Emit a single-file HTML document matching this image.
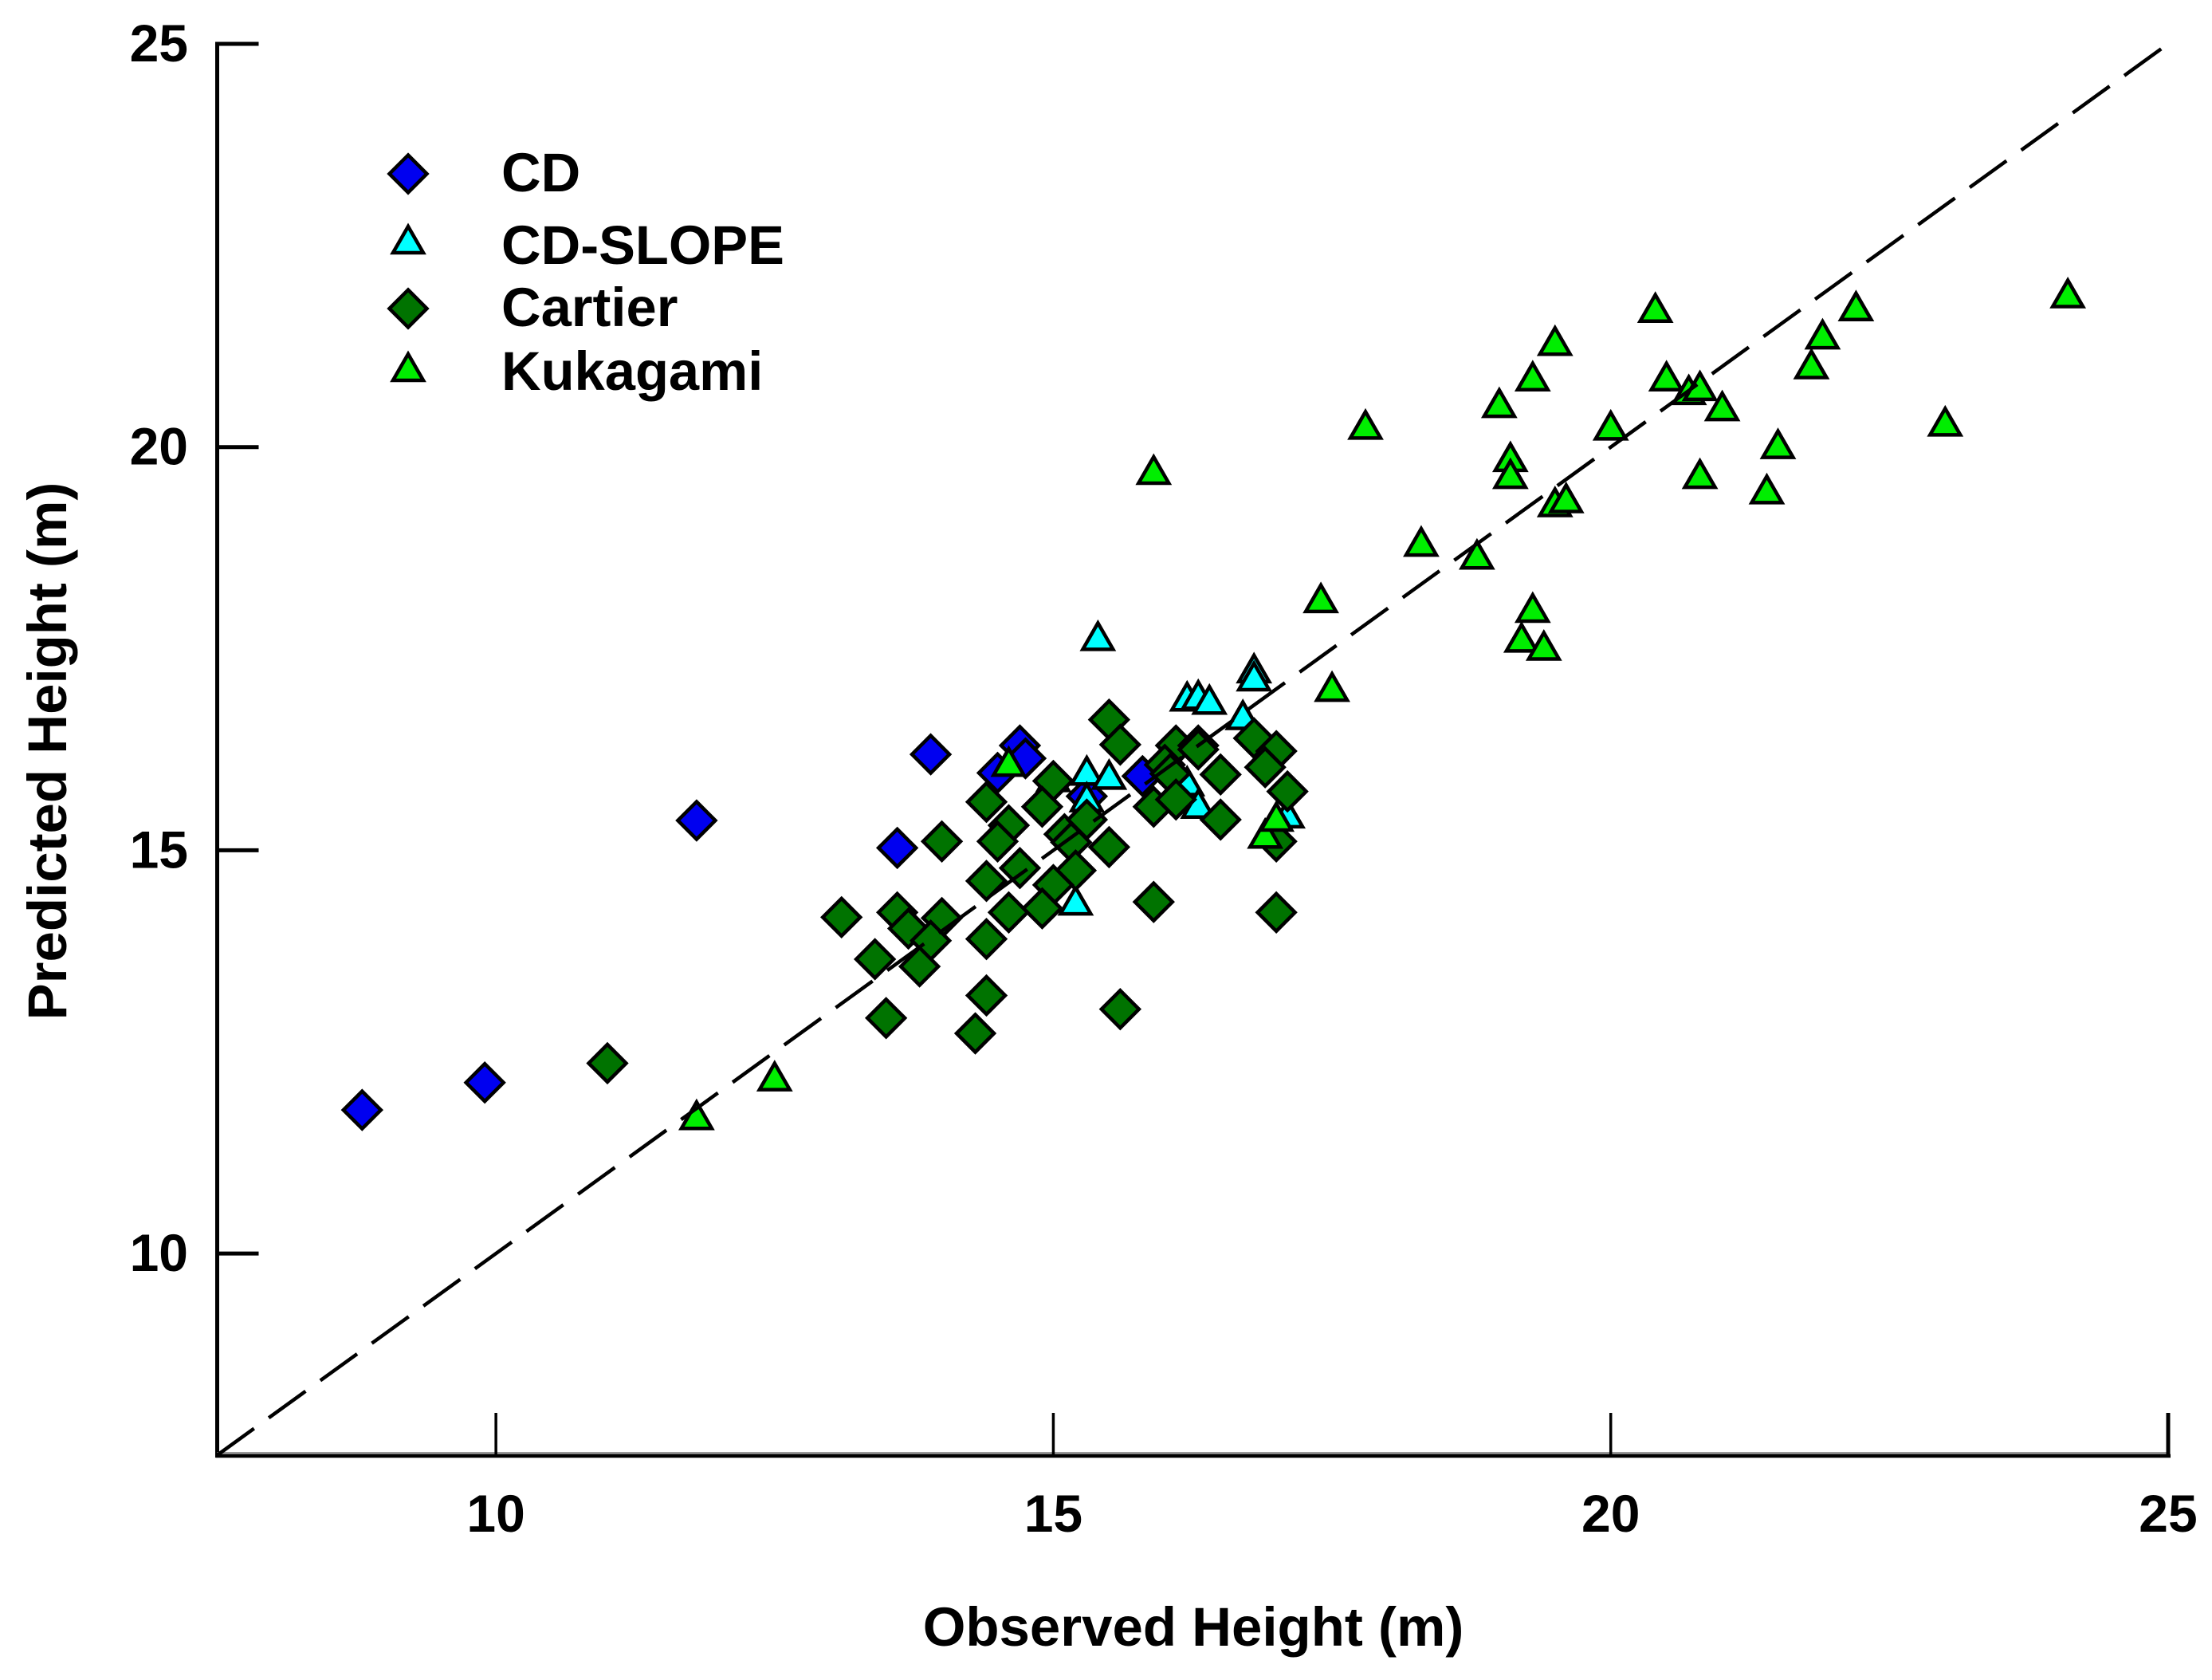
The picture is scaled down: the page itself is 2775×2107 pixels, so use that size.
<!DOCTYPE html>
<html lang="en">
<head>
<meta charset="utf-8">
<title>Observed vs Predicted Height</title>
<style>
html,body{margin:0;padding:0;background:#fff;}
svg{display:block;}
text{font-family:"Liberation Sans",Arial,sans-serif;font-weight:bold;fill:#000;}
</style>
</head>
<body>
<svg id="chart" xmlns="http://www.w3.org/2000/svg" width="2775" height="2107" viewBox="0 0 2775 2107">
<rect x="0" y="0" width="2775" height="2107" fill="#ffffff"/>
<g id="axes"></g>
<g id="marks"></g>
<g id="legend"></g>
<text x="1497" y="2064" font-size="69" text-anchor="middle">Observed Height (m)</text>
<text transform="translate(83 942) rotate(-90)" font-size="69" text-anchor="middle">Predicted Height (m)</text>
</svg>
<script>
const xTicks = [10, 15, 20, 25];
const yTicks = [10, 15, 20, 25];
const cdObserved = [8.8, 9.9, 11.8, 13.6, 13.9, 14.5, 14.7, 14.75, 15.3, 15.8];
const cdPredicted = [11.78, 12.12, 15.37, 15.03, 16.19, 15.96, 16.3, 16.14, 15.67, 15.92];
const slopeObserved = [15.4, 16.8, 16.8, 16.2, 16.3, 16.4, 16.7, 15.3, 15.5, 15.3, 16.2, 16.3, 17.1, 15.2, 15.0];
const slopePredicted = [17.65, 17.25, 17.15, 16.9, 16.92, 16.86, 16.67, 15.98, 15.93, 15.65, 15.85, 15.57, 15.45, 14.37, 15.9];
const cartierObserved = [11.0, 15.5, 15.6, 15.0, 14.4, 14.9, 14.6, 14.5, 14.0, 15.1, 15.3, 15.16, 15.5, 16.1, 16.3, 16.3, 16.0, 16.05, 16.5, 16.8, 17.0, 16.9, 17.1, 15.9, 16.1, 16.5, 17.0, 14.4, 14.7, 15.2, 15.0, 14.9, 14.6, 14.4, 15.9, 17.0, 13.1, 13.6, 13.7, 14.0, 13.9, 13.4, 13.8, 14.4, 13.5, 15.6, 14.3];
const cartierPredicted = [12.36, 16.62, 16.31, 15.86, 15.6, 15.54, 15.31, 15.11, 15.11, 15.2, 15.38, 15.1, 15.04, 16.3, 16.3, 16.25, 16.06, 15.95, 15.94, 16.39, 16.23, 16.03, 15.73, 15.54, 15.63, 15.38, 15.11, 14.62, 14.78, 14.75, 14.57, 14.28, 14.23, 13.9, 14.36, 14.23, 14.17, 14.23, 14.03, 14.16, 13.88, 13.65, 13.56, 13.2, 12.92, 13.03, 12.73];
const kukagamiObserved = [11.8, 12.5, 14.6, 16.9, 17.0, 17.5, 15.9, 17.4, 17.8, 18.3, 18.8, 19.0, 19.1, 19.1, 19.2, 19.3, 19.4, 19.3, 19.5, 19.5, 19.6, 20.0, 20.4, 20.5, 20.7, 20.8, 20.8, 21.0, 21.4, 21.5, 21.8, 21.9, 22.2, 23.0, 24.1];
const kukagamiPredicted = [11.71, 12.19, 16.09, 15.2, 15.41, 17.02, 19.71, 18.12, 20.27, 18.82, 18.66, 20.54, 19.87, 19.66, 17.63, 18.0, 17.53, 20.87, 21.31, 19.31, 19.36, 20.26, 21.72, 20.87, 20.7, 20.75, 19.66, 20.5, 19.47, 20.03, 21.02, 21.39, 21.74, 20.31, 21.9];
const legendLabels = ["CD", "CD-SLOPE", "Cartier", "Kukagami"];

const SVGNS = "http://www.w3.org/2000/svg";
const X0 = 272.5, X1 = 2720, Y0 = 1825, Y1 = 55, DMIN = 7.5, DMAX = 25;
function xScale(v) { return X0 + (v - DMIN) * (X1 - X0) / (DMAX - DMIN); }
function yScale(v) { return Y0 - (v - DMIN) * (Y0 - Y1) / (DMAX - DMIN); }
function make(tag, parent, attrs) {
  const el = document.createElementNS(SVGNS, tag);
  for (const k in attrs) el.setAttribute(k, attrs[k]);
  parent.appendChild(el);
  return el;
}
const axes = document.getElementById("axes");
const marks = document.getElementById("marks");
const legend = document.getElementById("legend");

const yAxisLine = make("line", axes, {x1: X0, y1: Y1 - 2.5, x2: X0, y2: Y0 + 3, stroke: "#000", "stroke-width": 5});


const xAxisShade = make("line", axes, {x1: X0, y1: Y0 - 2.5, x2: X1, y2: Y0 - 2.5, stroke: "#999", "stroke-width": 3});


const xAxisLine = make("line", axes, {x1: X0 - 2, y1: Y0 + 1, x2: X1 + 3, y2: Y0 + 1, stroke: "#000", "stroke-width": 4.5});



xTicks.forEach(function (t) {
  const tick = make("line", axes, {x1: xScale(t), y1: Y0, x2: xScale(t), y2: Y0 - 53, stroke: "#000", "stroke-width": t === 25 ? 5 : 3.5});
  
  
  const label = make("text", axes, {x: xScale(t), y: 1921, "font-size": 66, "text-anchor": "middle"});
  label.textContent = String(t);
  
  
});
yTicks.forEach(function (t) {
  const tick = make("line", axes, {x1: X0, y1: yScale(t), x2: X0 + 52, y2: yScale(t), stroke: "#000", "stroke-width": 5});
  
  
  const label = make("text", axes, {x: 236, y: yScale(t) + 22, "font-size": 66, "text-anchor": "end"});
  label.textContent = String(t);
  
  
});

function diamond(parent, cx, cy, fill, name) {
  const r = 23.5;
  const el = make("polygon", parent, {
    points: cx + "," + (cy - r) + " " + (cx + r) + "," + cy + " " + cx + "," + (cy + r) + " " + (cx - r) + "," + cy,
    fill: fill, stroke: "#000", "stroke-width": 4.5, "stroke-linejoin": "miter"
  });
  
  
  return el;
}
function triangle(parent, cx, cy, fill, name) {
  const el = make("polygon", parent, {
    points: cx + "," + (cy - 17) + " " + (cx + 19) + "," + (cy + 16) + " " + (cx - 19) + "," + (cy + 16),
    fill: fill, stroke: "#000", "stroke-width": 4.5, "stroke-linejoin": "miter"
  });
  
  
  return el;
}
const BLUE = "#0000f0", CYAN = "#00ffff", DARK = "#007300", LIME = "#00ee00";

const cdGroup = make("g", marks, {});


cdObserved.forEach(function (v, i) {
  diamond(cdGroup, xScale(v), yScale(cdPredicted[i]), BLUE, 'cd-point');
});
const slopeGroup = make("g", marks, {});


slopeObserved.forEach(function (v, i) {
  triangle(slopeGroup, xScale(v), yScale(slopePredicted[i]), CYAN, 'cd-slope-point');
});
const cartierGroup = make("g", marks, {});


cartierObserved.forEach(function (v, i) {
  diamond(cartierGroup, xScale(v), yScale(cartierPredicted[i]), DARK, 'cartier-point');
});
const kukagamiGroup = make("g", marks, {});


kukagamiObserved.forEach(function (v, i) {
  triangle(kukagamiGroup, xScale(v), yScale(kukagamiPredicted[i]), LIME, 'kukagami-point');
});
const identityLine = make("line", marks, {
  x1: xScale(DMIN), y1: yScale(DMIN), x2: xScale(DMAX), y2: yScale(DMAX),
  stroke: "#000", "stroke-width": 4.5, "stroke-dasharray": "57 22.8"
});



diamond(legend, 512, 218, BLUE, 'legend-marker-cd');
triangle(legend, 512, 301, CYAN, 'legend-marker-cd-slope');
diamond(legend, 512, 387, DARK, 'legend-marker-cartier');
triangle(legend, 512, 461, LIME, 'legend-marker-kukagami');
const legendBaselines = [240, 331, 409, 489];
legendLabels.forEach(function (name, i) {
  const label = make("text", legend, {x: 629, y: legendBaselines[i], "font-size": 68.7});
  label.textContent = name;
  
  
});
</script>
</body>
</html>
